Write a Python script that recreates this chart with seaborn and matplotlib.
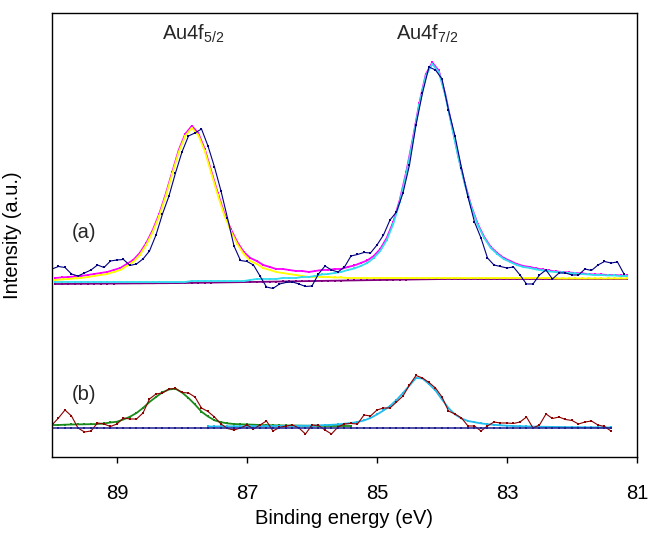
import numpy as np
import seaborn as sns
import matplotlib
matplotlib.use("Agg")
import matplotlib.pyplot as plt

# --- data (binding energy in eV, intensity in a.u.) ---
# spectrum (a): measured points, 90.0 -> 81.2 eV in 0.1 eV steps
xa_data = np.arange(900, 811, -1) / 10
a_data = [190, 192.5, 191.5, 185, 183, 186, 189, 194, 191.5, 198,
          199, 199.5, 193.5, 195, 200, 208, 224, 245, 263, 286,
          307, 323, 326, 330, 313, 292, 268, 241, 213, 198.5,
          197.5, 194, 183, 172, 170.5, 175, 176.5, 177, 175, 172.5,
          173, 185, 193, 189, 187, 192, 203, 204.5, 206.5, 206,
          214, 224, 239, 247, 266, 294, 334, 366, 392, 389,
          380, 349, 323, 291, 262, 237, 221, 201, 194, 192.5,
          191, 192, 184, 175, 175, 184, 189, 180, 186, 186,
          184, 184, 190, 188.5, 194, 197.5, 196, 197, 185]

# spectrum (a): fitted curves, 89.95 -> 81.15 eV
xa_fit = np.arange(8995, 8114, -10) / 100
a_total = [181, 181.5, 182, 182.5, 183, 184, 185, 186, 187, 189,
           191, 195, 199, 206, 216, 229, 245, 265, 287, 309,
           325, 333, 326, 310, 288, 266, 246, 230, 217, 207,
           201, 198, 194, 192, 190, 190, 189, 188, 188, 187,
           188, 189, 189, 190, 190, 192, 193.5, 196, 198.5, 203,
           210, 221, 237, 259, 287, 320, 355.5, 384.5, 396.5, 388.5,
           365, 334, 303, 276, 253, 235, 222, 212, 206, 201,
           198, 195, 193, 192, 190.5, 189.5, 188.5, 187.5, 187, 186.5,
           186, 185.5, 185, 184.5, 184.5, 184, 184, 183.5, 183.5]
a_f52 = [179, 179.5, 180, 180.5, 181, 182, 183, 184, 185, 187,
         189, 193, 197, 204, 214, 227, 243, 263, 285, 307,
         323, 331, 324, 308, 286, 264, 244, 228, 215, 205,
         198, 195, 191, 189, 187, 186, 185, 184, 183, 182,
         182, 182, 182, 181.5, 181.5, 181, 181, 181, 181, 181,
         181, 181, 181, 181, 181, 181, 181, 181, 181, 181,
         181, 181, 181, 181, 181, 181, 181, 181, 181, 181,
         181, 181, 181, 181, 181, 181, 181, 180.5, 180.5, 180.5,
         180.5, 180.5, 180.5, 180.5, 180.5, 180.5, 180.5, 180.5, 180.5]
a_f72 = [177, 177, 177, 177, 177, 177, 177, 177, 177, 177,
         177, 177, 177, 177, 177, 177, 177, 177, 177, 177,
         177, 178, 178, 178, 178, 178, 178, 178, 178, 178,
         179, 180, 180, 180, 180, 181, 181, 181, 182, 182,
         183, 184.5, 185, 186, 187, 189, 190.5, 193, 196, 201,
         208, 219, 235, 257, 285, 318, 354, 383, 395, 387,
         364, 333, 302, 275, 252, 234, 221, 211, 205, 200,
         197, 194, 192, 191, 189.5, 188.5, 187.5, 187, 186.5, 186,
         185.5, 185, 184.5, 184, 184, 183.5, 183.5, 183, 183]
a_bg = [175.0, 175.0, 175.1, 175.1, 175.2, 175.2, 175.3, 175.3, 175.4, 175.4,
        175.5, 175.5, 175.6, 175.6, 175.7, 175.7, 175.8, 175.8, 175.9, 175.9,
        176.0, 176.1, 176.2, 176.3, 176.4, 176.5, 176.6, 176.7, 176.8, 176.9,
        177.0, 177.1, 177.2, 177.3, 177.4, 177.5, 177.6, 177.7, 177.8, 177.9,
        178.0, 178.1, 178.2, 178.3, 178.4, 178.5, 178.6, 178.7, 178.8, 178.9,
        179.0, 179.1, 179.2, 179.3, 179.4, 179.5, 179.6, 179.7, 179.8, 179.9,
        180.0, 180.0, 180.0, 180.0, 180.0, 180.0, 180.0, 180.0, 180.0, 180.0,
        180.0, 180.0, 180.0, 180.0, 180.0, 180.0, 180.0, 180.0, 180.0, 180.0,
        180.0, 180.0, 180.0, 180.0, 180.0, 180.0, 180.0, 180.0, 180.0]

# spectrum (b): measured points, 90.0 -> 81.4 eV
xb_data = np.arange(900, 813, -1) / 10
b_data = [34, 41, 49, 43, 31, 27, 28, 36, 35, 32.5,
          35, 41, 40, 40, 46, 60, 65, 66, 70, 70.5,
          66.5, 66, 62, 51, 47.5, 42, 35, 30.5, 29, 31,
          34, 30, 34, 38, 28, 31.5, 33, 34, 31, 25,
          34, 33.5, 29, 25, 32, 35, 35.5, 35, 44, 43,
          49, 51, 51, 57, 63, 74, 83.5, 81, 76.5, 71,
          62, 48, 45, 41, 33, 33, 28, 33, 37, 36,
          36, 35.5, 37, 42, 31, 34, 45, 40.5, 42, 39.5,
          38.5, 35, 37, 38, 34, 32.5, 28]
b_bg = [31.3, 31.3, 31.3, 31.3, 31.3, 31.3, 31.3, 31.3, 31.3, 31.3,
        31.3, 31.3, 31.3, 31.3, 31.3, 31.3, 31.3, 31.3, 31.3, 31.3,
        31.3, 31.3, 31.3, 31.3, 31.3, 31.3, 31.3, 31.3, 31.3, 31.3,
        31.3, 31.3, 31.3, 31.3, 31.3, 31.3, 31.3, 31.3, 31.3, 31.3,
        31.3, 31.3, 31.3, 31.3, 31.3, 31.3, 31.3, 31.3, 31.3, 31.3,
        31.3, 31.3, 31.3, 31.3, 31.3, 31.3, 31.3, 31.3, 31.3, 31.3,
        31.3, 31.3, 31.3, 31.3, 31.3, 31.3, 31.3, 31.3, 31.3, 31.3,
        31.3, 31.3, 31.3, 31.3, 31.3, 31.3, 31.3, 31.3, 31.3, 31.3,
        31.3, 31.3, 31.3, 31.3, 31.3, 31.3, 31.3]

# spectrum (b): Au4f5/2 fit (90.0 -> 85.4) and Au4f7/2 fit (87.6 -> 81.4)
xb_f52 = np.arange(900, 853, -1) / 10
b_f52 = [34, 34, 34.3, 34.5, 34.6, 34.7, 34.8, 35, 35.5, 36.5,
         37.3, 39.5, 42.3, 46, 51, 57, 62, 66.7, 69.5, 70.3,
         66.5, 61, 54.5, 47.3, 42.5, 38.7, 36.8, 35.6, 35, 34.7,
         34.5, 34.3, 34, 33.8, 33.7, 33.6, 33.5, 33.5, 33.4, 33.3,
         33.2, 33.2, 33.1, 33, 33, 33, 33]
xb_f72 = np.arange(876, 813, -1) / 10
b_f72 = [32.5, 32.5, 32.6, 32.6, 32.7, 32.7, 32.8, 32.8, 32.9, 32.9,
         33, 33, 33.1, 33.1, 33.2, 33.2, 33.4, 33.6, 33.9, 34.2,
         34.5, 35.3, 36, 37, 38.5, 41, 44.5, 48.5, 53, 59,
         66, 73.5, 81, 80.5, 75, 68.5, 59.5, 51, 44.5, 40.5,
         38, 36.8, 35.6, 34.8, 34.2, 33.7, 33.3, 33, 32.8, 32.6,
         32.4, 32.3, 32.2, 32.1, 32, 31.9, 31.8, 31.8, 31.7, 31.7,
         31.6, 31.6, 31.5]

xticks = [89, 87, 85, 83, 81]

# --- style ---
sns.set_style("white")
plt.rcParams['font.family'] = ['Liberation Sans', 'DejaVu Sans']
plt.rcParams['mathtext.default'] = 'regular'
fs = 14.5

fig = plt.figure(figsize=(6.49, 5.34), dpi=100)
ax = fig.add_axes([0.0801, 0.1442, 0.9014, 0.8315])

fit_mk = dict(marker='s', markersize=1.6, markeredgewidth=0)
dat_mk = dict(marker='s', markersize=1.8, markeredgewidth=0)

# (a)
sns.lineplot(x=xa_fit, y=a_bg, color='#800080', linewidth=1.3, ax=ax, **fit_mk)
sns.lineplot(x=xa_fit, y=a_total, color='#FF00FF', linewidth=1.3, ax=ax, **fit_mk)
sns.lineplot(x=xa_fit, y=a_f52, color='#FFFF00', linewidth=1.3, ax=ax, **fit_mk)
sns.lineplot(x=xa_fit, y=a_f72, color='#33DDF0', linewidth=1.3, ax=ax, **fit_mk)
sns.lineplot(x=xa_data, y=a_data, color='#000080', linewidth=0.8, ax=ax, **dat_mk)

# (b)
sns.lineplot(x=xb_f52, y=b_f52, color='#1A8A1A', linewidth=1.3, ax=ax, **fit_mk)
sns.lineplot(x=xb_f72, y=b_f72, color='#22BBEE', linewidth=1.3, ax=ax, **fit_mk)
sns.lineplot(x=xb_data, y=b_data, color='#8B0000', linewidth=0.8, ax=ax, **dat_mk)
sns.lineplot(x=xb_data, y=b_bg, color='#202090', linewidth=1.1, ax=ax, **fit_mk)

ax.set_xlim(90, 81)
ax.set_ylim(2, 446)
ax.set_xticks(xticks)
ax.set_xticklabels([str(t) for t in xticks])
ax.set_yticks([])
ax.tick_params(axis='x', direction='out', length=4.5, width=1, pad=15,
               labelsize=fs, bottom=True, color='black', labelcolor='black')
for s in ax.spines.values():
    s.set_color('black')
    s.set_linewidth(1.0)

ax.set_xlabel('Binding energy (eV)', fontsize=fs, color='black')
ax.set_ylabel('Intensity (a.u.)', fontsize=fs, color='black')
ax.xaxis.set_label_coords(0.5, -0.118)
ax.yaxis.set_label_coords(-0.051, 0.5)

ax.text(88.31, 419.5, 'Au4f$_{5/2}$', fontsize=fs, ha='left', va='baseline')
ax.text(84.70, 419.5, 'Au4f$_{7/2}$', fontsize=fs, ha='left', va='baseline')
ax.text(89.51, 226, '(a)', fontsize=fs, ha='center', va='center')
ax.text(89.51, 64, '(b)', fontsize=fs, ha='center', va='center')

fig.savefig('out.png', dpi=100)
